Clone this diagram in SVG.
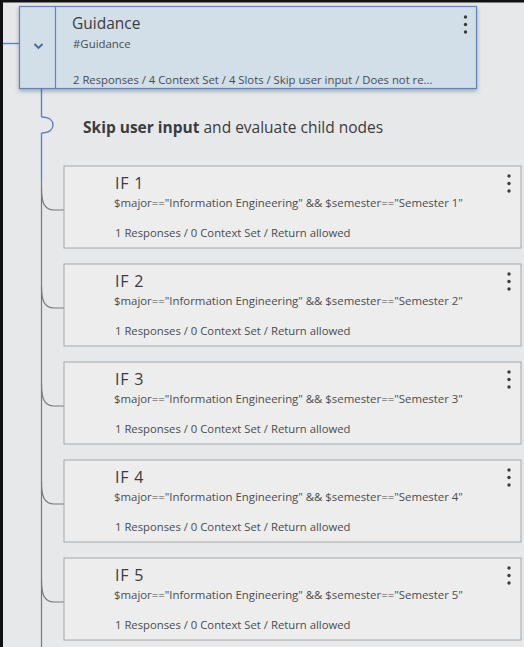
<svg xmlns="http://www.w3.org/2000/svg" width="524" height="647" viewBox="0 0 524 647">
  <style>
    .txt{font-family:"Open Sans","Noto Sans","Liberation Sans",sans-serif;fill:#3a3c3e}
    .head{font-size:16px;letter-spacing:0.8px}
    .sub{font-size:11.4px;fill:#4a4c4f}
    .meta{font-size:11.3px;fill:#4a4c4f}
    .card{fill:#ededed;stroke:#a4a8ac;stroke-width:1}
    .dot{fill:#3a3c3e}
    .blue{stroke:#5a86c2;stroke-width:1.4;fill:none}
    .gray{stroke:#76797d;stroke-width:1.2;fill:none}
  </style>
  <defs>
    <filter id="shadow" x="-5%" y="-10%" width="110%" height="130%">
      <feDropShadow dx="0" dy="2" stdDeviation="2" flood-color="#3c5470" flood-opacity="0.45"/>
    </filter>
    <g id="kebab">
      <circle cx="0" cy="0" r="1.7" class="dot"/>
      <circle cx="0" cy="7.5" r="1.7" class="dot"/>
      <circle cx="0" cy="15" r="1.7" class="dot"/>
    </g>
    <path id="branch" d="M41.5,0 C41.5,14 44,22 54,22 L64,22" class="gray"/>
  </defs>

  <!-- canvas -->
  <rect x="0" y="0" width="524" height="647" fill="#e7e8ea"/>
  <rect x="0" y="0" width="524" height="2.5" fill="#111"/>
  <rect x="0" y="0" width="3" height="647" fill="#111"/>

  <!-- tree lines -->
  <g id="connectors">
    <line x1="3" y1="43.5" x2="20" y2="43.5" class="blue"/>
    <line x1="41.5" y1="89" x2="41.5" y2="117" class="blue"/>
    <path d="M41.5,117 C50,117 53,121 53,125 C53,129 50,133 41.5,133" class="blue"/>
    <line x1="41.5" y1="133" x2="41.5" y2="182" class="blue"/>
    <line x1="41.5" y1="182" x2="41.5" y2="647" class="gray"/>
    <use href="#branch" y="188"/>
    <use href="#branch" y="286"/>
    <use href="#branch" y="384"/>
    <use href="#branch" y="482"/>
    <use href="#branch" y="580"/>
  </g>

  <!-- parent node -->
  <g id="node-guidance">
    <rect x="19.5" y="6.5" width="457" height="82" fill="#d2dee8" stroke="#5f86bb" stroke-width="1.2" filter="url(#shadow)"/>
    <line x1="55.5" y1="7" x2="55.5" y2="88" stroke="#5f86bb" stroke-width="1.2"/>
    <path d="M34.5,44 L38.5,48 L42.5,44" fill="none" stroke="#3f6aa6" stroke-width="1.8"/>
    <text x="72" y="29" class="txt" font-size="15.5">Guidance</text>
    <text x="73" y="48" class="txt sub" font-size="11.2">#Guidance</text>
    <text x="73" y="84" class="txt meta">2 Responses / 4 Context Set / 4 Slots / Skip user input / Does not re...</text>
    <use href="#kebab" x="465.5" y="17"/>
  </g>

  <text x="83" y="133" class="txt" font-size="15.5"><tspan font-weight="bold">Skip user input</tspan> and evaluate child nodes</text>

  <!-- child nodes -->
  <g id="node-if1">
    <rect x="64" y="166" width="457" height="82" class="card"/>
    <text x="115" y="189" class="txt head">IF 1</text>
    <text x="114" y="207" class="txt sub">$major=="Information Engineering" &amp;&amp; $semester=="Semester 1"</text>
    <text x="115" y="237" class="txt meta">1 Responses / 0 Context Set / Return allowed</text>
    <use href="#kebab" x="509" y="176"/>
  </g>
  <g id="node-if2">
    <rect x="64" y="264" width="457" height="82" class="card"/>
    <text x="115" y="287" class="txt head">IF 2</text>
    <text x="114" y="305" class="txt sub">$major=="Information Engineering" &amp;&amp; $semester=="Semester 2"</text>
    <text x="115" y="335" class="txt meta">1 Responses / 0 Context Set / Return allowed</text>
    <use href="#kebab" x="509" y="274"/>
  </g>
  <g id="node-if3">
    <rect x="64" y="362" width="457" height="82" class="card"/>
    <text x="115" y="385" class="txt head">IF 3</text>
    <text x="114" y="403" class="txt sub">$major=="Information Engineering" &amp;&amp; $semester=="Semester 3"</text>
    <text x="115" y="433" class="txt meta">1 Responses / 0 Context Set / Return allowed</text>
    <use href="#kebab" x="509" y="372"/>
  </g>
  <g id="node-if4">
    <rect x="64" y="460" width="457" height="82" class="card"/>
    <text x="115" y="483" class="txt head">IF 4</text>
    <text x="114" y="501" class="txt sub">$major=="Information Engineering" &amp;&amp; $semester=="Semester 4"</text>
    <text x="115" y="531" class="txt meta">1 Responses / 0 Context Set / Return allowed</text>
    <use href="#kebab" x="509" y="470"/>
  </g>
  <g id="node-if5">
    <rect x="64" y="558" width="457" height="82" class="card"/>
    <text x="115" y="581" class="txt head">IF 5</text>
    <text x="114" y="599" class="txt sub">$major=="Information Engineering" &amp;&amp; $semester=="Semester 5"</text>
    <text x="115" y="629" class="txt meta">1 Responses / 0 Context Set / Return allowed</text>
    <use href="#kebab" x="509" y="568"/>
  </g>
</svg>
